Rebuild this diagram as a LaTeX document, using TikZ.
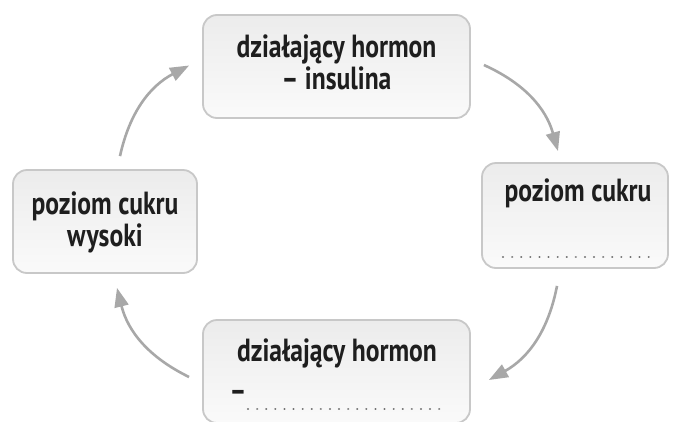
\documentclass[tikz,border=0pt]{standalone}
\usepackage{fontspec}
\newfontfamily\boxfont{PT Sans}[FakeStretch=0.8]
\definecolor{boxline}{RGB}{200,200,200}
\definecolor{boxtop}{RGB}{236,236,236}
\definecolor{boxbottom}{RGB}{250,250,250}
\definecolor{arrgray}{RGB}{168,168,168}
\definecolor{txtdark}{RGB}{30,30,30}
\usetikzlibrary{arrows.meta}

\begin{document}
\begin{tikzpicture}[x=1pt,y=-1pt,
  lbox/.style={draw=boxline,line width=1.8pt,rounded corners=14pt,
    top color=boxtop,bottom color=boxbottom,minimum height=103pt},
  ltext/.style={font=\boxfont\bfseries\fontsize{32}{32}\selectfont,
    text=txtdark,align=center,inner sep=0pt},
  arr/.style={draw=arrgray,line width=2.6pt,
    -{Triangle[length=19pt,width=14pt]}},
  dots/.style={draw=gray!110,line width=2.2pt,line cap=round,
    dash pattern=on 0.1pt off 9pt}
]
  \clip (0,0) rectangle (673,421);
  \fill[white] (0,0) rectangle (673,421);
  % Boxes
  \node[lbox,minimum width=267pt] (insulina) at (336.5,66.5) {};
  \node[lbox,minimum width=186pt,minimum height=105pt] (niski) at (575,215.5) {};
  \node[lbox,minimum width=267pt] (hormon) at (336.5,371.5) {};
  \node[lbox,minimum width=184pt] (wysoki) at (105,221.5) {};
  % Texts
  \node[ltext] (t1) at (336.5,62) {działający hormon\\– insulina};
  \node[ltext] (t2) at (578,193) {poziom cukru};
  \node[ltext] (t3) at (337,353) {działający hormon};
  \node[ltext] (t3d) at (238,396) {–};
  \node[ltext] (t4) at (105,222) {poziom cukru\\wysoki};
  % Blanks to fill
  \draw[dots] (503,257) -- (656,257);
  \draw[dots] (248,409) -- (441,409);
  % Cycle arrows
  \draw[arr] ([shift={(15,-13)}]wysoki.north) to[bend left=25] ([shift={(-13,-1)}]insulina.west);
  \draw[arr] ([shift={(13,-1.5)}]insulina.east) to[bend left=25] ([shift={(-17,-11)}]niski.north);
  \draw[arr] ([shift={(-18,17)}]niski.south) to[bend left=25] ([shift={(18,8.5)}]hormon.east);
  \draw[arr] ([shift={(-13,5.5)}]hormon.west) to[bend left=25] ([shift={(12,14)}]wysoki.south);
\end{tikzpicture}
\end{document}
